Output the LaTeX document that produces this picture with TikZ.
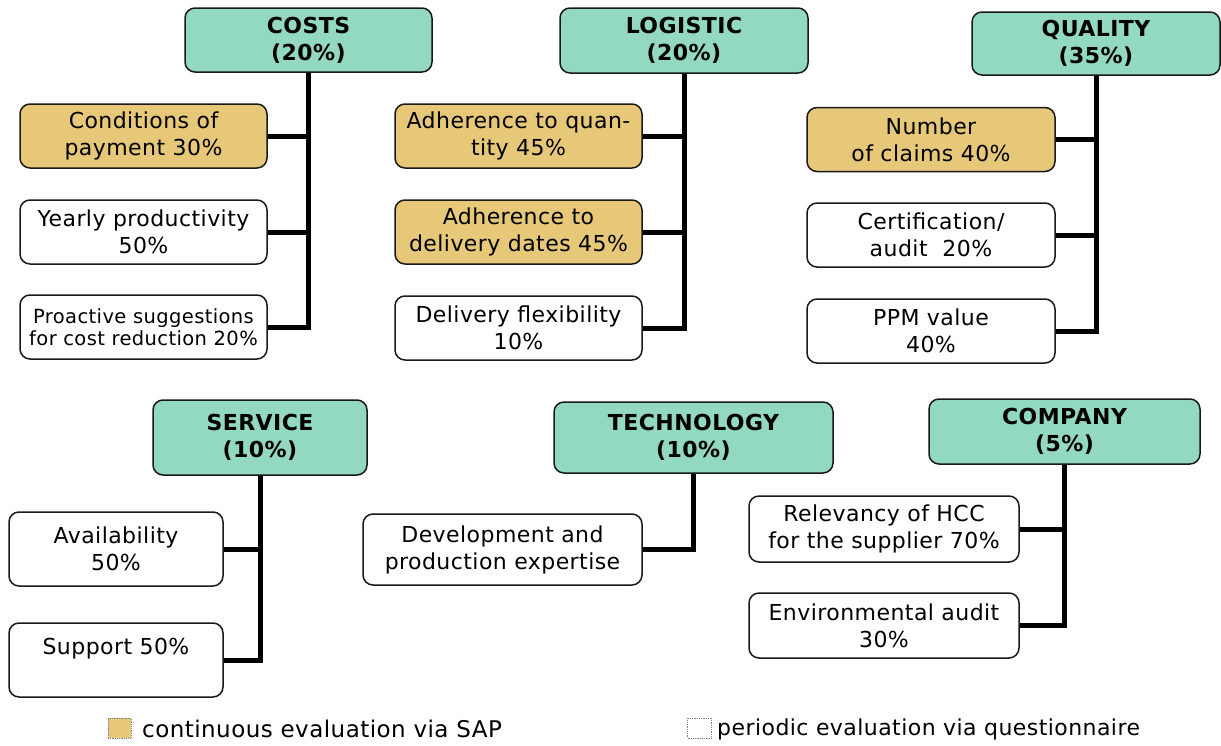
\documentclass[tikz,border=0pt]{standalone}
\usepackage{fontspec}
\setmainfont{DejaVu Sans}[LetterSpace=2]
\definecolor{teal}{RGB}{147,217,194}
\definecolor{tan}{RGB}{230,200,120}
\definecolor{edge}{RGB}{25,25,25}
\tikzset{
  base/.style={draw=edge, line width=1.5pt, rounded corners=10pt, align=center, inner sep=0pt,
    font=\fontsize{22}{27}\selectfont},
  head/.style={base, fill=teal, font=\fontsize{22}{27}\selectfont\bfseries},
  sap/.style={base, fill=tan},
  quest/.style={base, fill=white},
  conn/.style={line width=5pt, line join=miter, draw=black},
  legtext/.style={anchor=west, inner sep=0pt, font=\fontsize{22.5}{27}\selectfont},
  legbox/.style={draw=gray, densely dotted, line width=0.8pt, inner sep=0pt},
  sz/.style 2 args={minimum width=#1pt, minimum height=#2pt},
}
\begin{document}
\begin{tikzpicture}[x=1pt, y=-1pt]
\useasboundingbox (0,0) rectangle (1221,745);
% COSTS
\node[head, sz={247}{64}] (costs) at (308.5,40) {COSTS\\(20\%)};
\node[sap, sz={247}{64}] (c1) at (143.5,136) {Conditions of\\payment 30\%};
\node[quest, sz={247}{64}] (c2) at (143.5,232) {Yearly productivity\\50\%};
\node[quest, sz={247}{64}, font=\fontsize{19.5}{22.5}\selectfont] (c3) at (143.5,327) {Proactive suggestions\\for cost reduction 20\%};
% LOGISTIC
\node[head, sz={248}{65}] (log) at (684,40.5) {LOGISTIC\\(20\%)};
\node[sap, sz={247}{64}] (l1) at (518.5,136) {Adherence to quan-\\tity 45\%};
\node[sap, sz={247}{64}] (l2) at (518.5,232) {Adherence to\\delivery dates 45\%};
\node[quest, sz={247}{64}] (l3) at (518.5,328) {Delivery flexibility\\10\%};
% QUALITY
\node[head, sz={248}{63}] (qual) at (1096,43.5) {QUALITY\\(35\%)};
\node[sap, sz={248}{64}] (q1) at (931,139.5) {Number\\of claims 40\%};
\node[quest, sz={248}{64}] (q2) at (931,235) {Certification/\\audit \ 20\%};
\node[quest, sz={248}{64}] (q3) at (931,331) {PPM value\\40\%};
% SERVICE
\node[head, sz={214}{75}] (serv) at (260,437.5) {SERVICE\\(10\%)};
\node[quest, sz={214}{74}] (s1) at (116,549) {Availability\\50\%};
\node[quest, sz={214}{74}] (s2) at (116,660) {Support 50\%\\\mbox{}};
% TECHNOLOGY
\node[head, sz={279}{71}] (tech) at (693.5,437.5) {TECHNOLOGY\\(10\%)};
\node[quest, sz={279}{71}] (t1) at (502.5,549.5) {Development and\\production expertise};
% COMPANY
\node[head, sz={271}{65}] (comp) at (1064.5,431.5) {COMPANY\\(5\%)};
\node[quest, sz={270}{66}] (p1) at (884,529) {Relevancy of HCC\\for the supplier 70\%};
\node[quest, sz={270}{65}] (p2) at (884,625.5) {Environmental audit\\30\%};
% connectors
\draw[conn] (costs.south) |- (c3.east);
\draw[conn] (c1.east) -- (c1.east -| costs.south);
\draw[conn] (c2.east) -- (c2.east -| costs.south);
\draw[conn] (log.south) |- (l3.east);
\draw[conn] (l1.east) -- (l1.east -| log.south);
\draw[conn] (l2.east) -- (l2.east -| log.south);
\draw[conn] (qual.south) |- (q3.east);
\draw[conn] (q1.east) -- (q1.east -| qual.south);
\draw[conn] (q2.east) -- (q2.east -| qual.south);
\draw[conn] (serv.south) |- (s2.east);
\draw[conn] (s1.east) -- (s1.east -| serv.south);
\draw[conn] (tech.south) |- (t1.east);
\draw[conn] (comp.south) |- (p2.east);
\draw[conn] (p1.east) -- (p1.east -| comp.south);
% legend
\node[legbox, fill=tan, sz={23}{20}] (k1) at (119.5,728) {};
\node[legtext, font=\fontsize{23}{27}\selectfont] (k1t) at (142,729) {continuous evaluation via SAP};
\node[legbox, fill=white, sz={24}{20}] (k2) at (699.5,728) {};
\node[legtext, font=\fontsize{22}{27}\selectfont] (k2t) at (717,729) {periodic evaluation via questionnaire};
\end{tikzpicture}
\end{document}
